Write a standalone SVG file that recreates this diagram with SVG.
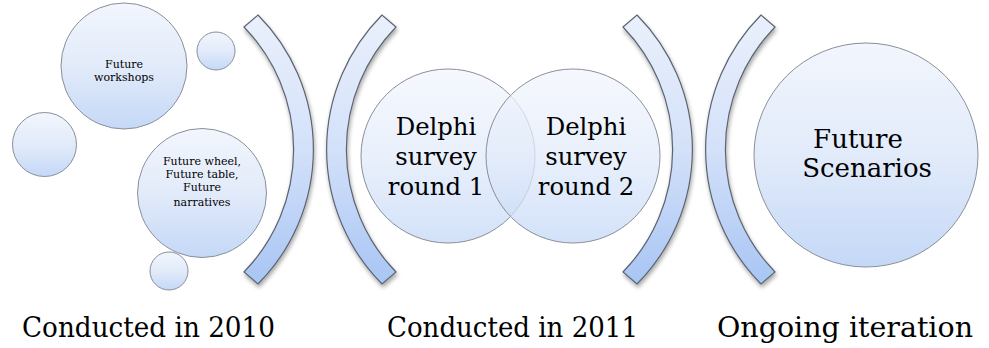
<svg xmlns="http://www.w3.org/2000/svg" width="989" height="348" viewBox="0 0 989 348">
<defs>
<linearGradient id="gc" x1="0" y1="0" x2="0" y2="1">
<stop offset="0" stop-color="#f2f6fd"/>
<stop offset="0.5" stop-color="#e2ebfa"/>
<stop offset="1" stop-color="#c4d8f7"/>
</linearGradient>
<linearGradient id="gb" x1="0" y1="0" x2="0" y2="1">
<stop offset="0" stop-color="#eaf0fc"/>
<stop offset="0.5" stop-color="#d3e1f9"/>
<stop offset="1" stop-color="#a8c5f4"/>
</linearGradient>
<filter id="sh" x="-30%" y="-10%" width="160%" height="125%">
<feGaussianBlur in="SourceAlpha" stdDeviation="2"/>
<feOffset dx="1" dy="3" result="b"/>
<feComponentTransfer><feFuncA type="linear" slope="0.35"/></feComponentTransfer>
<feMerge><feMergeNode/><feMergeNode in="SourceGraphic"/></feMerge>
</filter>
<path id="brR" d="M244,27 L258,15 A191,191 0 0 1 258,284 L244,272 A176,176 0 0 0 244,27 Z"/>
</defs>
<style>
.c{fill:url(#gc);stroke:#8a8f98;stroke-width:1}
.cd{fill:url(#gc);fill-opacity:0.75;stroke:#8a8f98;stroke-width:1}
.b{fill:url(#gb);stroke:#5d6470;stroke-width:1.2}
.t{font-family:"DejaVu Serif","Liberation Serif",serif;fill:#000;text-anchor:middle}
.s{font-size:11px}
.m{font-size:24.3px}
.l{font-size:26px}
.lab{font-family:"DejaVu Serif","Liberation Serif",serif;font-size:27px;fill:#000}
</style>
<g id="connectors">
<g id="bracket1" filter="url(#sh)"><use href="#brR" class="b"/></g>
<g id="bracket2" filter="url(#sh)"><use href="#brR" class="b" transform="translate(640,0) scale(-1,1)"/></g>
<g id="bracket3" filter="url(#sh)"><use href="#brR" class="b" transform="translate(379,0)"/></g>
<g id="bracket4" filter="url(#sh)"><use href="#brR" class="b" transform="translate(1019,0) scale(-1,1)"/></g>
</g>
<g id="node-workshops">
<circle class="c" cx="124" cy="66" r="63"/>
<text class="t s" x="124" y="68">Future</text>
<text class="t s" x="124" y="81">workshops</text>
</g>
<g id="node-small-top"><circle class="c" cx="216" cy="51" r="19"/></g>
<g id="node-small-left"><circle class="c" cx="44.5" cy="144.5" r="32"/></g>
<g id="node-wheel">
<circle class="c" cx="202" cy="193" r="64.5"/>
<text class="t s" x="202" y="165">Future wheel,</text>
<text class="t s" x="202" y="178">Future table,</text>
<text class="t s" x="202" y="191">Future</text>
<text class="t s" x="202" y="206">narratives</text>
</g>
<g id="node-small-bottom"><circle class="c" cx="169" cy="271" r="19"/></g>
<g id="node-delphi1">
<circle class="cd" cx="448" cy="156" r="87"/>
</g>
<g id="node-delphi2">
<circle class="cd" cx="573" cy="156" r="87"/>
</g>
<g id="delphi-texts">
<text class="t m" x="436" y="135">Delphi</text>
<text class="t m" x="436" y="165">survey</text>
<text class="t m" x="436" y="195">round 1</text>
<text class="t m" x="586" y="135">Delphi</text>
<text class="t m" x="586" y="165">survey</text>
<text class="t m" x="586" y="195">round 2</text>
</g>
<g id="node-scenarios">
<circle class="c" cx="866" cy="155" r="112"/>
<text class="t l" x="858" y="148">Future</text>
<text class="t l" x="867" y="177">Scenarios</text>
</g>
<g id="labels">
<text class="lab" x="22" y="337" textLength="253" lengthAdjust="spacingAndGlyphs">Conducted in 2010</text>
<text class="lab" x="387" y="337" textLength="251" lengthAdjust="spacingAndGlyphs">Conducted in 2011</text>
<text class="lab" x="717" y="337" textLength="256" lengthAdjust="spacingAndGlyphs">Ongoing iteration</text>
</g>
</svg>
